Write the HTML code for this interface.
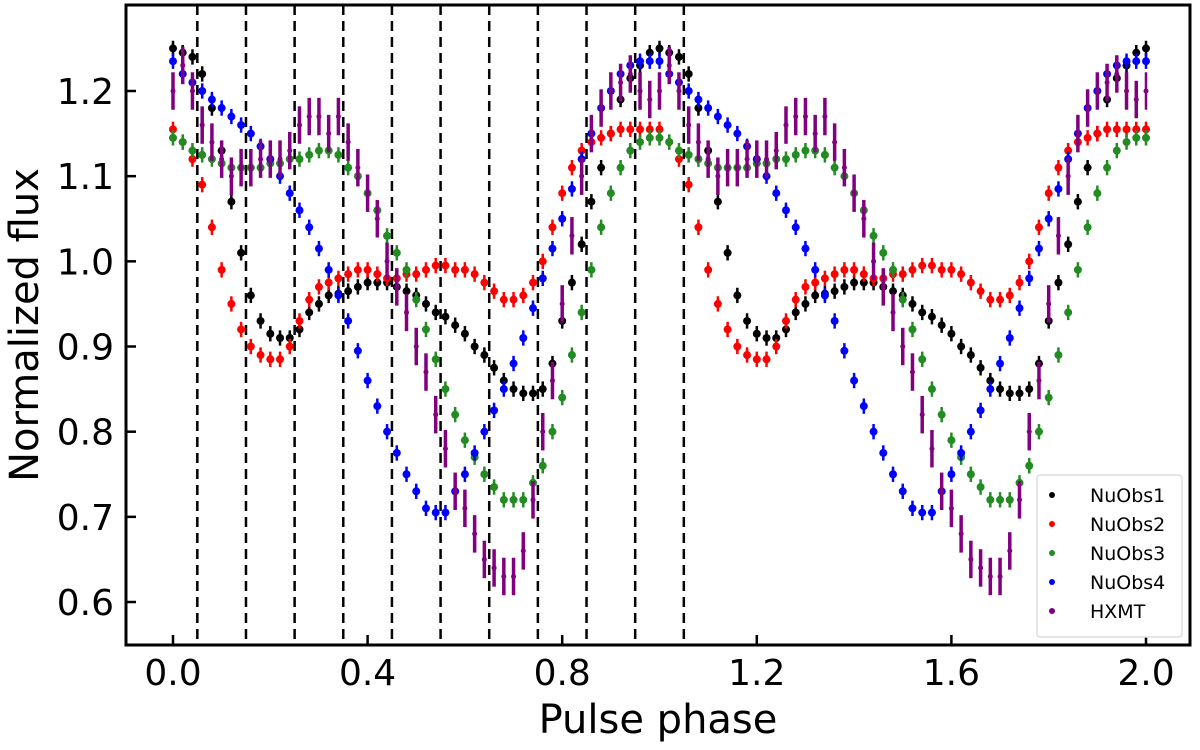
<!DOCTYPE html>
<html><head><meta charset="utf-8"><style>
body{margin:0;background:#fff;}
svg text{font-family:"DejaVu Sans","Liberation Sans",sans-serif;}
</style></head><body>
<svg id="chart" width="1200" height="745" viewBox="0 0 1200 745" xmlns="http://www.w3.org/2000/svg">
<g id="grid"></g><g id="marks"></g><g id="axes"></g>
</svg>
<script>
const seriesNames = ["NuObs1","NuObs2","NuObs3","NuObs4","HXMT"];
const seriesColors = ["#000000","#ff0000","#228b22","#0000ff","#800080"];
const nuobs1 = [1.25,1.245,1.24,1.22,1.18,1.13,1.07,1.01,0.96,0.93,0.915,0.91,0.91,0.92,0.94,0.95,0.96,0.962,0.965,0.97,0.975,0.975,0.975,0.97,0.965,0.96,0.95,0.94,0.935,0.925,0.915,0.9,0.89,0.875,0.86,0.85,0.845,0.845,0.85,0.88,0.93,0.975,1.02,1.07,1.11,1.15,1.19,1.215,1.23,1.245];
const nuobs2 = [1.155,1.14,1.12,1.09,1.04,0.99,0.95,0.92,0.9,0.89,0.885,0.885,0.9,0.93,0.955,0.97,0.975,0.98,0.985,0.99,0.99,0.985,0.98,0.98,0.985,0.985,0.99,0.995,0.995,0.99,0.99,0.985,0.975,0.965,0.955,0.955,0.96,0.975,1.0,1.04,1.08,1.11,1.13,1.14,1.145,1.15,1.155,1.155,1.155,1.155];
const nuobs3 = [1.145,1.14,1.13,1.125,1.12,1.115,1.11,1.11,1.11,1.11,1.115,1.115,1.12,1.12,1.125,1.13,1.13,1.125,1.11,1.1,1.08,1.06,1.03,1.01,0.99,0.955,0.92,0.885,0.85,0.82,0.79,0.77,0.75,0.735,0.72,0.72,0.72,0.74,0.76,0.8,0.84,0.89,0.94,0.99,1.04,1.08,1.11,1.13,1.14,1.145];
const nuobs4 = [1.235,1.22,1.21,1.2,1.19,1.18,1.17,1.16,1.15,1.135,1.12,1.1,1.08,1.06,1.04,1.015,0.99,0.96,0.93,0.895,0.86,0.83,0.8,0.775,0.75,0.73,0.71,0.705,0.705,0.73,0.75,0.775,0.8,0.825,0.85,0.88,0.91,0.945,0.98,1.015,1.05,1.085,1.12,1.15,1.18,1.2,1.22,1.23,1.235,1.235];
const hxmt = [1.2,1.23,1.2,1.16,1.14,1.12,1.1,1.11,1.11,1.12,1.12,1.12,1.13,1.16,1.17,1.17,1.15,1.17,1.14,1.11,1.08,1.05,1.0,0.97,0.94,0.9,0.87,0.82,0.78,0.73,0.71,0.68,0.65,0.64,0.63,0.63,0.66,0.72,0.8,0.86,0.95,1.03,1.1,1.15,1.18,1.2,1.21,1.22,1.2,1.19];
const phaseStep = 0.02;
const xTicks = [0.0,0.4,0.8,1.2,1.6,2.0];
const xTickLabels = ["0.0","0.4","0.8","1.2","1.6","2.0"];
const yTicks = [0.6,0.7,0.8,0.9,1.0,1.1,1.2];
const yTickLabels = ["0.6","0.7","0.8","0.9","1.0","1.1","1.2"];
const dashedPhases = [0.05,0.15,0.25,0.35,0.45,0.55,0.65,0.75,0.85,0.95,1.05];

const L=126,R=1190,T=5,B=645;
function xs(v){return 173+v*486.5;}
function ys(v){return 91+(1.2-v)*851.7;}
const NS="http://www.w3.org/2000/svg";
function mk(tag,attrs,parent){const e=document.createElementNS(NS,tag);for(const k in attrs)e.setAttribute(k,attrs[k]);parent.appendChild(e);return e;}
const grid=document.getElementById('grid'),marks=document.getElementById('marks'),axes=document.getElementById('axes');

dashedPhases.forEach(p=>{
  const l=mk('line',{x1:xs(p),x2:xs(p),y1:T,y2:B,stroke:'#000','stroke-width':2.5,'stroke-dasharray':'10,6'},grid);
  
  
});

const allSeries=[nuobs1,nuobs2,nuobs3,nuobs4,hxmt];
const errs=[0.009,0.009,0.009,0.009,0.022];
allSeries.forEach((arr,si)=>{
  const g=mk('g',{},marks);
  
  
  const c=seriesColors[si];
  for(let rep=0;rep<2;rep++){
    arr.forEach((v,i)=>{
      const ph=rep+i*phaseStep;
      if(ph>1.99)return;
      const x=xs(ph),y=ys(v);
      mk('line',{x1:x,x2:x,y1:ys(v+errs[si]),y2:ys(v-errs[si]),stroke:c,'stroke-width':si==4?3.5:2.5},g);
      const d=mk('circle',{cx:x,cy:y,r:si==4?2.5:4,fill:c},g);
      
      
    });
  }
  const x=xs(2.0),y=ys(arr[0]);
  mk('line',{x1:x,x2:x,y1:ys(arr[0]+errs[si]),y2:ys(arr[0]-errs[si]),stroke:c,'stroke-width':2.5},g);
  mk('circle',{cx:x,cy:y,r:si==4?2.5:4,fill:c},g);
});

const frame=mk('rect',{x:L,y:T,width:R-L,height:B-T,fill:'none',stroke:'#000','stroke-width':3},axes);


xTicks.forEach((t,i)=>{
  mk('line',{x1:xs(t),x2:xs(t),y1:B,y2:B-10,stroke:'#000','stroke-width':2.5},axes);
  const tx=mk('text',{x:xs(t),y:B+40,'font-size':36,'text-anchor':'middle'},axes);
  tx.textContent=xTickLabels[i];
  
  
});
yTicks.forEach((t,i)=>{
  mk('line',{x1:L,x2:L+10,y1:ys(t),y2:ys(t),stroke:'#000','stroke-width':2.5},axes);
  const tx=mk('text',{x:L-12,y:ys(t)+13,'font-size':36,'text-anchor':'end'},axes);
  tx.textContent=yTickLabels[i];
  
  
});
const xl=mk('text',{x:658,y:733,'font-size':40,'text-anchor':'middle'},axes);
xl.textContent='Pulse phase';


const yl=mk('text',{x:0,y:0,'font-size':40,'text-anchor':'middle',transform:'translate(38,325) rotate(-90)'},axes);
yl.textContent='Normalized flux';



const lg=mk('g',{},axes);


mk('rect',{x:1037,y:475,width:145,height:162,rx:3,fill:'#fff',stroke:'#ddd','stroke-width':1.5},lg);
seriesNames.forEach((n,i)=>{
  const yy=495+i*29;
  mk('circle',{cx:1052,cy:yy,r:3,fill:seriesColors[i]},lg);
  const t=mk('text',{x:1090,y:yy+7,'font-size':19},lg);
  t.textContent=n;
  
  
});
</script>
</body></html>
